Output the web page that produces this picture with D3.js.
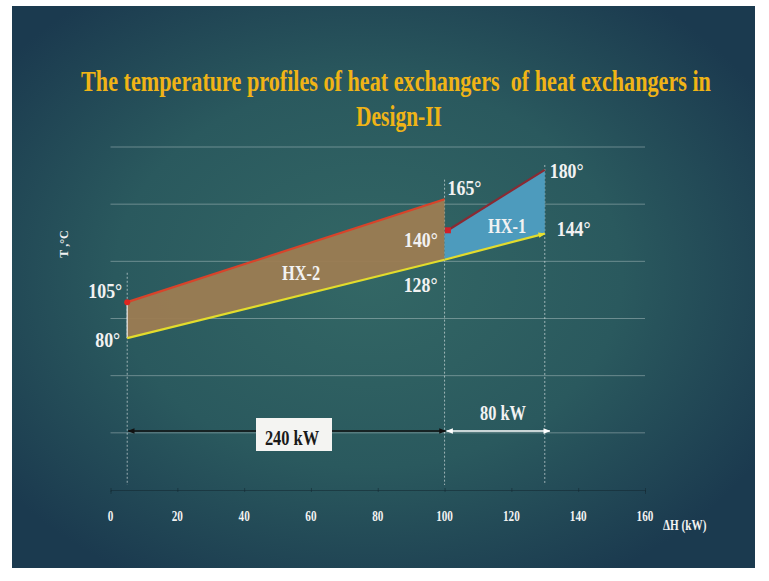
<!DOCTYPE html>
<html><head><meta charset="utf-8">
<script src="https://cdn.jsdelivr.net/npm/d3@7"></script>
<style>html,body{margin:0;padding:0;background:#fff;} svg{display:block;} text{white-space:pre;}</style>
</head><body><svg id="c" width="769" height="581"></svg>
<script>
// ---- data ----
const titleLines = ["The temperature profiles of heat exchangers  of heat exchangers in", "Design-II"];
const xTicks = [0, 20, 40, 60, 80, 100, 120, 140, 160];
const yGrid = [22, 57, 92, 127, 162, 197];
const hx2Hot = [[5, 102], [100, 165]];
const hx2Cold = [[5, 80], [100, 128]];
const hx1Hot = [[101, 146], [130, 183]];
const hx1Cold = [[100, 128], [130, 144]];
const tempLabels = ["105°", "80°", "165°", "140°", "128°", "180°", "144°"];
const hxNames = ["HX-2", "HX-1"];
const dutySpans = [[5, 100], [100, 130]];
const dutyLabels = ["240 kW", "80 kW"];
const guideLines = [[5, 120], [100, 177], [130, 186]];
const xTitle = "ΔH (kW)";
const yTitle = "T ,°C";

// ---- setup ----
const svg = d3.select("#c");
const x = d3.scaleLinear().domain([0, 160]).range([110.5, 645]);
const y = d3.scaleLinear().domain([-13, 197]).range([490, 147]);
const SERIF = "'Liberation Serif','Times New Roman',serif";

const defs = svg.append("defs");
const rg = defs.append("radialGradient").attr("id", "bg").attr("cx", "48%").attr("cy", "48%").attr("r", "62%");
rg.append("stop").attr("offset", "0%").attr("stop-color", "#336765");
rg.append("stop").attr("offset", "55%").attr("stop-color", "#2a595e");
rg.append("stop").attr("offset", "100%").attr("stop-color", "#1b3a4f");

function marker(id, color) {
  const m = defs.append("marker").attr("id", id).attr("viewBox", "0 0 10 10")
    .attr("refX", 9).attr("refY", 5).attr("markerWidth", 7).attr("markerHeight", 7)
    .attr("orient", "auto-start-reverse").attr("markerUnits", "userSpaceOnUse");
  m.append("path").attr("d", "M0,1 L10,5 L0,9 Z").attr("fill", color);
}
marker("arrBlack", "#111");
marker("arrWhite", "#fff");
marker("arrYellow", "#e8e030");

svg.append("rect").attr("x", 12).attr("y", 6).attr("width", 743).attr("height", 562).attr("fill", "url(#bg)");

function txt(px, py, s, o) {
  return svg.append("text")
    .attr("transform", `translate(${px},${py}) scale(${o.sx || 0.86},1)` + (o.rot ? ` rotate(${o.rot})` : ""))
    .attr("text-anchor", o.anchor || "start")
    .attr("font-family", SERIF).attr("font-weight", "bold")
    .attr("font-size", o.size || 19).attr("fill", o.fill || "#f2f2f2").text(s);
}
function fitTitle(s, cx, by, width, size) {
  const t = svg.append("text").attr("text-anchor", "middle")
    .attr("font-family", SERIF).attr("font-weight", "bold").attr("font-size", size)
    .attr("fill", "#f0b416").text(s);
  const natural = t.node().getComputedTextLength();
  t.attr("transform", `translate(${cx},${by}) scale(${width / natural},1)`);
}

// title
fitTitle(titleLines[0], 396, 91, 630, 30);
fitTitle(titleLines[1], 399, 126, 86, 30);

// gridlines
svg.append("g").selectAll("line").data(yGrid).join("line")
  .attr("x1", x(0)).attr("x2", x(160)).attr("y1", d => y(d)).attr("y2", d => y(d))
  .attr("stroke", "rgba(215,225,225,0.38)").attr("stroke-width", 1);

// x axis
const xa = svg.append("g").attr("transform", `translate(0,${y(-13)})`)
  .call(d3.axisBottom(x).tickValues(xTicks).tickSize(4).tickFormat(""));
xa.select(".domain").attr("stroke", "rgba(20,40,50,0.55)");
xa.selectAll(".tick line").attr("stroke", "rgba(20,40,50,0.55)").attr("transform", "translate(0,-2)");
xTicks.forEach(v => txt(x(v), 521, String(v), { size: 14, anchor: "middle", sx: 0.8 }));
txt(663, 530, xTitle, { size: 14, sx: 0.8 });
txt(68, 244, yTitle, { size: 12, anchor: "middle", sx: 1, rot: -90 });

// guide dashed verticals
svg.append("g").selectAll("line").data(guideLines).join("line")
  .attr("x1", d => x(d[0])).attr("x2", d => x(d[0])).attr("y1", d => y(d[1])).attr("y2", 485)
  .attr("stroke", "rgba(255,255,255,0.55)").attr("stroke-width", 1).attr("stroke-dasharray", "2,2");

// HX-2 area
const poly = pts => "M" + pts.map(p => `${x(p[0])},${y(p[1])}`).join("L") + "Z";
svg.append("path").attr("d", poly([hx2Hot[0], hx2Hot[1], hx2Cold[1], hx2Cold[0]]))
  .attr("fill", "#9c7c52").attr("fill-opacity", 0.95);
svg.append("line").attr("x1", x(hx2Hot[0][0])).attr("x2", x(hx2Cold[0][0]))
  .attr("y1", y(hx2Hot[0][1])).attr("y2", y(hx2Cold[0][1])).attr("stroke", "rgba(235,235,235,0.8)").attr("stroke-width", 1.5);
// HX-1 area
svg.append("path").attr("d", poly([hx1Cold[0], [hx1Cold[0][0], hx1Hot[0][1] - 2], hx1Hot[0], hx1Hot[1], hx1Cold[1]]))
  .attr("fill", "#4d9bbd");

const line = d3.line().x(d => x(d[0])).y(d => y(d[1]));
svg.append("path").attr("d", line(hx2Hot)).attr("stroke", "#d8432a").attr("stroke-width", 2.2).attr("fill", "none");
svg.append("path").attr("d", line(hx2Cold)).attr("stroke", "#e2dc2c").attr("stroke-width", 2.2).attr("fill", "none");
svg.append("path").attr("d", line(hx1Hot)).attr("stroke", "#8a2a33").attr("stroke-width", 2.2).attr("fill", "none");
svg.append("path").attr("d", line(hx1Cold)).attr("stroke", "#e2dc2c").attr("stroke-width", 2.2).attr("fill", "none")
  .attr("marker-end", "url(#arrYellow)");
svg.append("circle").attr("cx", x(hx2Hot[0][0])).attr("cy", y(hx2Hot[0][1])).attr("r", 3).attr("fill", "#e0261f");
svg.append("rect").attr("x", x(hx1Hot[0][0]) - 3).attr("y", y(hx1Hot[0][1]) - 3).attr("width", 6).attr("height", 6).attr("fill", "#d0202a");

// temperature labels
const lp = [
  [hx2Hot[0], -5, -4, "end"], [hx2Cold[0], -7, 9, "end"], [hx2Hot[1], 3, -4, "start"],
  [hx1Hot[0], -10, 17, "end"], [hx2Cold[1], -7, 32, "end"], [hx1Hot[1], 5, 8, "start"], [hx1Cold[1], 12, 2, "start"]
];
tempLabels.forEach((s, i) => {
  const [p, dx, dy, a] = lp[i];
  txt(x(p[0]) + dx, y(p[1]) + dy, s, { size: 21, anchor: a, sx: 0.85 });
});
txt(301, 280, hxNames[0], { size: 20, anchor: "middle", sx: 0.82 });
txt(507, 233, hxNames[1], { size: 20, anchor: "middle", sx: 0.82 });

// duty arrows
const ay = 431;
svg.append("line").attr("x1", x(dutySpans[0][0]) + 1).attr("x2", x(dutySpans[0][1]) + 1).attr("y1", ay).attr("y2", ay)
  .attr("stroke", "#111").attr("stroke-width", 1.6).attr("marker-start", "url(#arrBlack)").attr("marker-end", "url(#arrBlack)");
svg.append("line").attr("x1", x(dutySpans[1][0]) + 2).attr("x2", x(dutySpans[1][1]) + 5).attr("y1", ay).attr("y2", ay)
  .attr("stroke", "#fff").attr("stroke-width", 1.6).attr("marker-start", "url(#arrWhite)").attr("marker-end", "url(#arrWhite)");
svg.append("rect").attr("x", 256).attr("y", 418).attr("width", 76).attr("height", 33).attr("fill", "#f4f4f2");
txt(292, 445, dutyLabels[0], { size: 20, anchor: "middle", sx: 0.82, fill: "#1a1a1a" });
txt(503, 420, dutyLabels[1], { size: 20, anchor: "middle", sx: 0.82 });
</script></body></html>
